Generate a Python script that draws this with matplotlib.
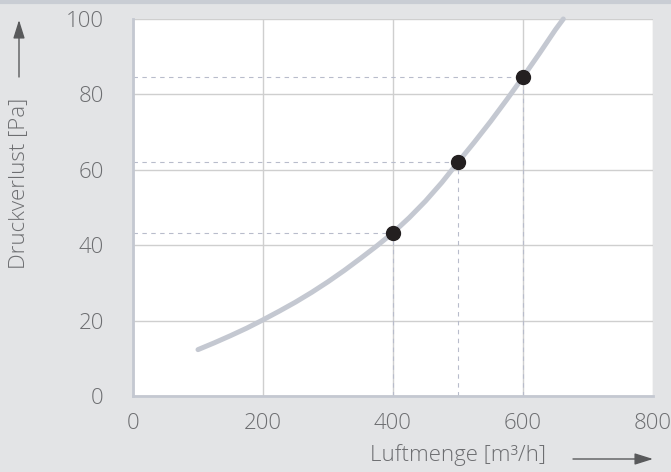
import matplotlib.pyplot as plt
from matplotlib.lines import Line2D

# curve
flow = [100, 125, 150, 175, 200, 225, 250, 275, 300, 325, 350, 375,
        400, 425, 450, 475, 500, 525, 550, 575, 600, 625, 650, 662]
loss = [12.3, 14.1, 16.0, 18.0, 20.2, 22.5, 24.9, 27.5, 30.3, 33.3, 36.5, 39.8,
        43.3, 47.3, 51.7, 56.6, 62.0, 67.3, 72.8, 78.6, 84.6, 90.8, 97.2, 100.0]

# marked points
pt_flow = [400, 500, 600]
pt_loss = [43.3, 62.0, 84.6]

xticks = [0, 200, 400, 600, 800]
yticks = [0, 20, 40, 60, 80, 100]

bg = "#e3e4e6"
txt = "#6d6e71"
line_c = "#c4c8d1"

plt.rcParams["font.family"] = ["Open Sans", "DejaVu Sans"]

fig = plt.figure(figsize=(6.71, 4.72), dpi=100, facecolor=bg)
ax = fig.add_axes([133 / 671, 76 / 472, 520 / 671, 377 / 472])
ax.set_facecolor("white")

ax.set_xlim(0, 800)
ax.set_ylim(0, 100)
ax.set_xticks(xticks)
ax.set_yticks(yticks)
ax.set_xticklabels([str(v) for v in xticks], fontsize=16, color=txt, fontweight="light")
ax.set_yticklabels([str(v) for v in yticks], fontsize=16, color=txt, fontweight="light")
ax.tick_params(axis="x", length=0, pad=12)
ax.tick_params(axis="y", length=0, pad=21)
ax.grid(True, color="#cfcfcf", linewidth=1)
ax.set_axisbelow(True)

for s in ["top", "right"]:
    ax.spines[s].set_visible(False)
for s in ["left", "bottom"]:
    ax.spines[s].set_color(line_c)
    ax.spines[s].set_linewidth(2)

# dashed guides
for x, y in zip(pt_flow, pt_loss):
    ax.plot([0, x], [y, y], ls=(0, (4, 4)), color="#b8bccb", lw=0.8, zorder=2)
    ax.plot([x, x], [0, y], ls=(0, (4, 4)), color="#b8bccb", lw=0.8, zorder=2)

ax.plot(flow, loss, color=line_c, lw=3.6, solid_capstyle="round",
        solid_joinstyle="round", zorder=3, clip_on=False)
ax.plot(pt_flow, pt_loss, "o", color="#231f20", ms=10, zorder=4)

# axis labels with arrows
fig.text(19 / 671, 1 - 183 / 472, "Druckverlust [Pa]", rotation=90, ha="center", va="center",
         fontsize=16, color=txt, fontweight="light")
fig.text(458 / 671, 1 - 455 / 472, "Luftmenge [m³/h]", ha="center", va="center",
         fontsize=16, color=txt, fontweight="light")
arrow = dict(arrowstyle="-|>,head_length=0.7,head_width=0.22", color="#58595b",
             lw=1, mutation_scale=16, shrinkA=0, shrinkB=0)
ax.annotate("", xy=(19 / 671, 1 - 20 / 472), xytext=(19 / 671, 1 - 77 / 472),
            xycoords="figure fraction", textcoords="figure fraction", arrowprops=arrow)
ax.annotate("", xy=(653 / 671, 1 - 459 / 472), xytext=(573 / 671, 1 - 459 / 472),
            xycoords="figure fraction", textcoords="figure fraction", arrowprops=arrow)

# top border
fig.add_artist(Line2D([0, 1], [1 - 1.5 / 472, 1 - 1.5 / 472], color="#c9cdd4", lw=3,
                      transform=fig.transFigure))

fig.savefig("out.png", dpi=100, facecolor=bg)
